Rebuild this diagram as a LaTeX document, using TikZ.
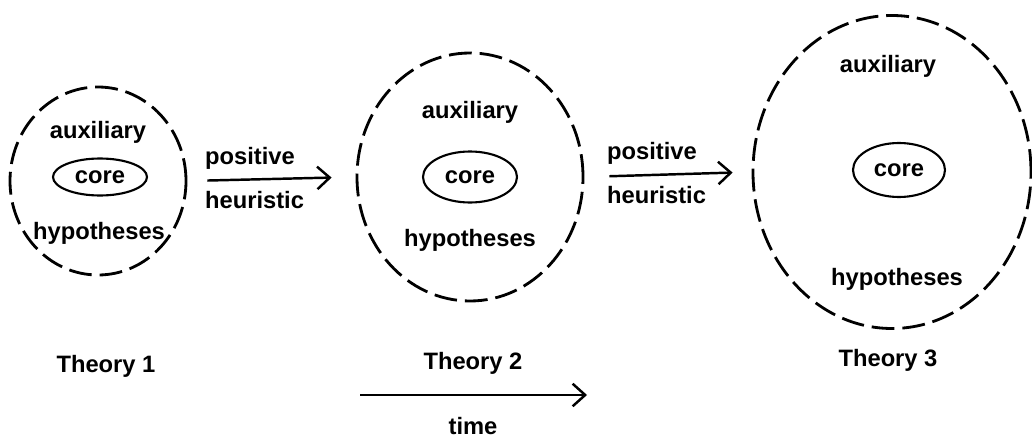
\documentclass[tikz,border=0pt]{standalone}
\usepackage{fontspec}
\setmainfont{Liberation Sans}
\usetikzlibrary{arrows.meta,positioning,shapes.geometric}

\begin{document}
\begin{tikzpicture}[
  belt/.style={draw,ellipse,dash pattern=on 13pt off 4.5pt,line width=1.6pt,inner sep=0pt},
  kern/.style={draw,ellipse,line width=1.2pt,inner sep=0pt,font=\bfseries\fontsize{13.5}{16}\selectfont},
  lbl/.style={font=\bfseries\fontsize{13.5}{16}\selectfont,inner sep=1pt},
  ar/.style={-{Straight Barb[length=2.5mm,width=4.5mm]},line width=1.4pt}]
\useasboundingbox (0,0) rectangle (20.64,8.74);
% Theory 1
\node[belt,minimum width=3.52cm,minimum height=3.76cm] (b1) at (1.96,5.12) {};
\node[kern,minimum width=1.88cm,minimum height=0.74cm] (k1) at (2.00,5.20) {core};
\node[lbl] (a1) at (1.96,6.10) {auxiliary};
\node[lbl] (h1) at (1.98,4.08) {hypotheses};
\node[lbl] (t1) at (2.12,1.42) {Theory 1};
% Theory 2
\node[belt,minimum width=4.52cm,minimum height=4.96cm] (b2) at (9.40,5.20) {};
\node[kern,minimum width=1.88cm,minimum height=1.02cm] (k2) at (9.40,5.20) {core};
\node[lbl] (a2) at (9.40,6.50) {auxiliary};
\node[lbl] (h2) at (9.40,3.94) {hypotheses};
\node[lbl] (t2) at (9.46,1.48) {Theory 2};
% Theory 3
\node[belt,minimum width=5.56cm,minimum height=6.26cm] (b3) at (17.84,5.30) {};
\node[kern,minimum width=1.84cm,minimum height=1.08cm] (k3) at (17.98,5.34) {core};
\node[lbl] (a3) at (17.76,7.42) {auxiliary};
\node[lbl] (h3) at (17.94,3.16) {hypotheses};
\node[lbl] (t3) at (17.76,1.54) {Theory 3};
% heuristic steps
\node[lbl,anchor=west] (p1) at (4.06,5.58) {positive};
\node[lbl,anchor=west] (q1) at (4.06,4.74) {heuristic};
\node[lbl,anchor=west] (p2) at (12.10,5.68) {positive};
\node[lbl,anchor=west] (q2) at (12.10,4.84) {heuristic};
\draw[ar,shorten <=0.4cm,shorten >=0.48cm] (b1.east) -- (b2.west);
\draw[ar,shorten <=0.5cm,shorten >=0.38cm] (b2.east) -- (b3.west);
% time axis
\coordinate (s) at (7.20,0.84);
\coordinate (e) at (11.74,0.84);
\draw[ar] (s) -- (e);
\node[lbl] (tm) at (9.46,0.22) {time};
\end{tikzpicture}
\end{document}
